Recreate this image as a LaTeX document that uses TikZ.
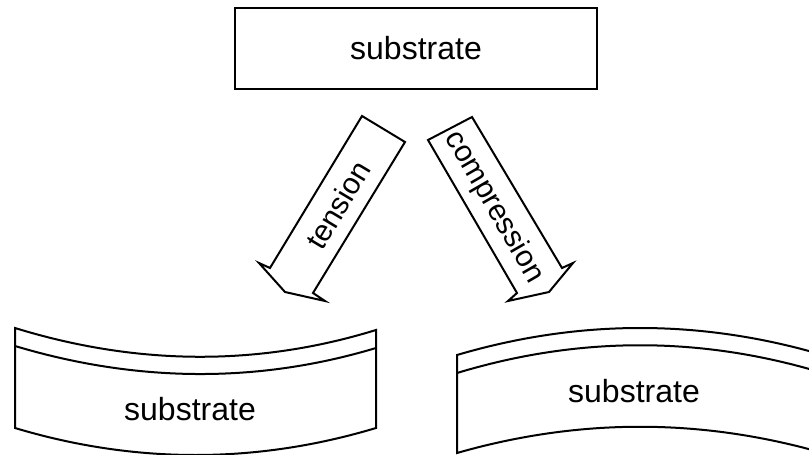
\documentclass[tikz,border=0pt]{standalone}
\usepackage{fontspec}
\setmainfont{Liberation Sans}
\usetikzlibrary{positioning}
\tikzstyle{outline} = [line width=1pt, line join=miter]
\tikzstyle{word} = [font=\fontsize{16}{19}\selectfont, inner sep=0pt]
\tikzstyle{arrowWord} = [font=\fontsize{15}{18}\selectfont, inner sep=0pt]

\begin{document}
\begin{tikzpicture}[x=0.5pt, y=-0.5pt, outline]
  \useasboundingbox (0,0) rectangle (809,455);
  \clip (0,0) rectangle (809,455);

  % flat substrate on top
  \node[draw, outline, minimum width=181pt, minimum height=40.5pt] (node_flat) at (416,48.5) {};
  \node[word] (flat_text) at (node_flat.center) {substrate};

  % block arrows
  \draw[outline] (362,116) -- (405,142) -- (313,293) -- (325,301) -- (285,292)
    -- (259,263) -- (270,268) -- cycle;
  \node[arrowWord, rotate=59] (tension) at (338,205) {tension};

  \draw[outline] (428,140) -- (472,117) -- (562,268) -- (573,263) -- (549,292)
    -- (508,301) -- (517,293) -- cycle;
  \node[arrowWord, rotate=-60] (compression) at (494,207) {compression};

  % bent under tension
  \draw[outline] (15,328) .. controls (135,365) and (256,367) .. (376,330)
    -- (376,428) .. controls (256,464) and (135,464) .. (15,428) -- cycle;
  \draw[outline] (15,346) .. controls (135,382) and (256,384) .. (376,348);
  \node[word] (sub_tension) at (190,409) {substrate};

  % bent under compression (runs off the right edge)
  \draw[outline] (823,355) .. controls (701,319) and (579,319) .. (457,355)
    -- (457,453) .. controls (579,418) and (701,418) .. (823,453) -- cycle;
  \draw[outline] (457,373) .. controls (579,336) and (701,336) .. (823,373);
  \node[word] (sub_compression) at (634,391) {substrate};

\end{tikzpicture}
\end{document}
